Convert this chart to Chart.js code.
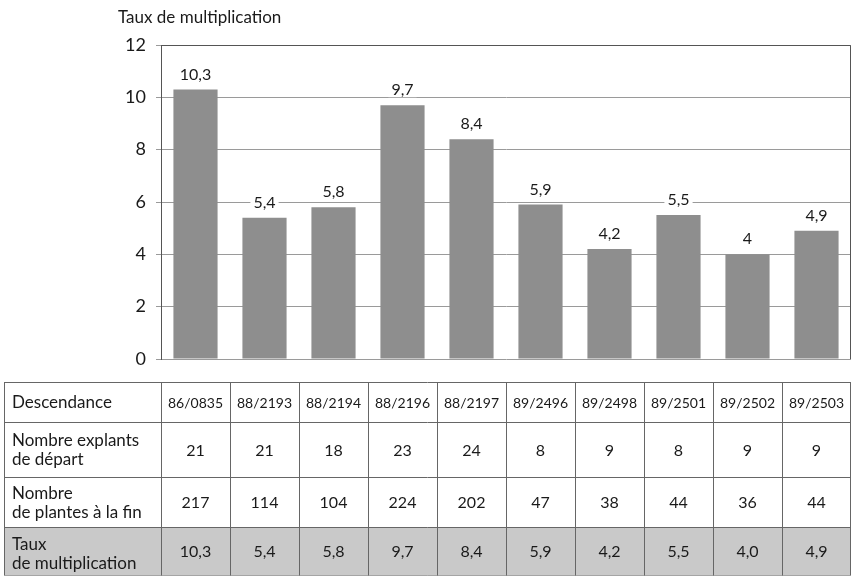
<!DOCTYPE html>
<html lang="fr">
<head>
<meta charset="utf-8">
<title>Taux de multiplication par descendance</title>
<script src="https://cdn.jsdelivr.net/npm/chart.js@4/dist/chart.umd.min.js"></script>
<style>
  html, body { margin: 0; padding: 0; background: #fff; }
  #wrap { position: relative; width: 852px; height: 576px; }
</style>
</head>
<body>
<div id="wrap"><canvas id="c" width="852" height="576"></canvas></div>
<script>
// Descendances étudiées
const descendances = ['86/0835', '88/2193', '88/2194', '88/2196', '88/2197',
                      '89/2496', '89/2498', '89/2501', '89/2502', '89/2503'];
// Nombre d'explants de départ
const explants = [21, 21, 18, 23, 24, 8, 9, 8, 9, 9];
// Nombre de plantes obtenues à la fin
const plantes = [217, 114, 104, 224, 202, 47, 38, 44, 36, 44];
// Taux de multiplication
const taux = [10.3, 5.4, 5.8, 9.7, 8.4, 5.9, 4.2, 5.5, 4, 4.9];
// Graduations de l'axe vertical
const yTicks = [0, 2, 4, 6, 8, 10, 12];

const rowLabels = [
  ['Descendance'],
  ['Nombre explants', 'de départ'],
  ['Nombre', 'de plantes à la fin'],
  ['Taux', 'de multiplication']
];

const FONT = 'Lato, "Open Sans", sans-serif';
const fmt = v => String(v).replace('.', ',');
const fmt1 = v => v.toFixed(1).replace('.', ',');

// Titre de l'axe, étiquettes de valeur et tableau
const labelsPlugin = {
  id: 'valueLabels',
  afterDatasetsDraw(chart) {
    const ctx = chart.ctx;
    const meta = chart.getDatasetMeta(0);
    ctx.save();
    ctx.font = '16px ' + FONT;
    ctx.textAlign = 'center';
    ctx.textBaseline = 'middle';
    meta.data.forEach((bar, i) => {
      const txt = fmt(taux[i]);
      const y = bar.y - 15;
      const w = ctx.measureText(txt).width + 6;
      ctx.fillStyle = '#fff';
      ctx.fillRect(bar.x - w / 2, y - 7, w, 14);
      ctx.fillStyle = '#1a1a1a';
      ctx.fillText(txt, bar.x, y);
    });
    ctx.restore();
  },
  afterDraw(chart) {
    const ctx = chart.ctx;
    const area = chart.chartArea;
    ctx.save();
    // cadre de la zone de tracé
    ctx.strokeStyle = '#555';
    ctx.lineWidth = 1;
    ctx.beginPath();
    ctx.moveTo(area.left + 0.5, area.bottom);
    ctx.lineTo(area.left + 0.5, area.top + 0.5);
    ctx.lineTo(area.right - 0.5, area.top + 0.5);
    ctx.lineTo(area.right - 0.5, area.bottom);
    ctx.stroke();
    // titre
    ctx.fillStyle = '#1a1a1a';
    ctx.font = '17px ' + FONT;
    ctx.textAlign = 'left';
    ctx.textBaseline = 'middle';
    ctx.fillText('Taux de multiplication', 118, 18);

    // tableau de données sous le graphique
    const xs = chart.scales.x;
    const colW = area.width / descendances.length;
    const rows = [382, 422, 477, 527, 575.5];
    const tLeft = 4.5, tRight = area.right - 0.5;
    ctx.fillStyle = '#c9c9c9';
    ctx.fillRect(tLeft, rows[3], tRight - tLeft, rows[4] - rows[3]);

    ctx.strokeStyle = '#666';
    ctx.beginPath();
    rows.forEach(y => { ctx.moveTo(tLeft, y + 0.5); ctx.lineTo(tRight, y + 0.5); });
    ctx.moveTo(tLeft, rows[0]); ctx.lineTo(tLeft, rows[4]);
    for (let i = 0; i <= descendances.length; i++) {
      const x = Math.round(xs.getPixelForValue(i) - colW / 2) + 0.5;
      ctx.moveTo(Math.min(x, tRight), rows[0]);
      ctx.lineTo(Math.min(x, tRight), rows[4]);
    }
    ctx.stroke();

    ctx.fillStyle = '#1a1a1a';
    ctx.font = '17px ' + FONT;
    ctx.textBaseline = 'middle';
    ctx.textAlign = 'left';
    rowLabels.forEach((lines, r) => {
      const mid = (rows[r] + rows[r + 1]) / 2 + (r === 3 ? 3 : 1);
      const step = 19;
      lines.forEach((ln, k) => {
        const y = mid + (k - (lines.length - 1) / 2) * step;
        ctx.fillText(ln, 12, y);
      });
    });

    const cols = [descendances, explants.map(String), plantes.map(String), taux.map(fmt1)];
    ctx.textAlign = 'center';
    cols.forEach((vals, r) => {
      ctx.font = (r === 0 ? '14px ' : '16px ') + FONT;
      const mid = (rows[r] + rows[r + 1]) / 2 + 1;
      vals.forEach((v, i) => ctx.fillText(v, xs.getPixelForValue(i), mid));
    });
    ctx.restore();
  }
};

new Chart(document.getElementById('c'), {
  type: 'bar',
  data: {
    labels: descendances,
    datasets: [{
      data: taux,
      backgroundColor: '#8e8e8e',
      borderWidth: 0,
      barPercentage: 0.64,
      categoryPercentage: 1
    }]
  },
  options: {
    responsive: false,
    animation: false,
    layout: { padding: { top: 45, left: 0, right: 1, bottom: 217 } },
    plugins: { legend: { display: false }, tooltip: { enabled: false } },
    scales: {
      x: { display: false },
      y: {
        min: 0, max: 12,
        afterFit(s) { s.width = 161; },
        afterBuildTicks(s) { s.ticks = yTicks.map(v => ({ value: v })); },
        border: { display: true, color: '#555' },
        grid: { color: '#9a9a9a', lineWidth: 1, tickLength: 5, drawOnChartArea: true },
        ticks: {
          font: { family: FONT, size: 18 },
          color: '#1a1a1a',
          padding: 10
        }
      }
    }
  },
  plugins: [labelsPlugin]
});
</script>
</body>
</html>
